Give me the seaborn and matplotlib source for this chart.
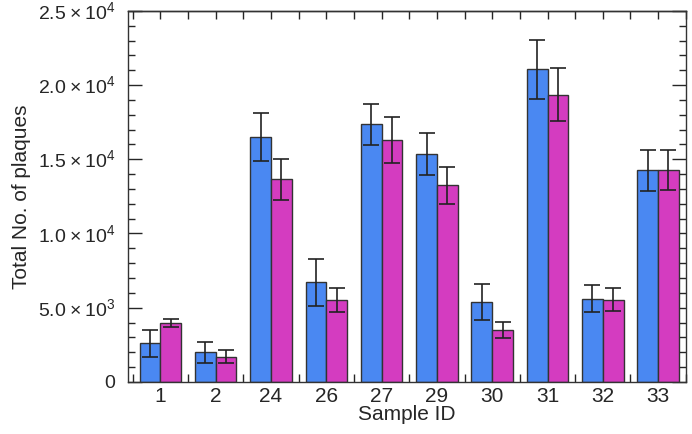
import numpy as np
import pandas as pd
import matplotlib
matplotlib.use("Agg")
import matplotlib.pyplot as plt
import seaborn as sns
from matplotlib.ticker import MultipleLocator, FixedLocator

# data
samples = ["1", "2", "24", "26", "27", "29", "30", "31", "32", "33"]
series_a = [2600, 2000, 16500, 6700, 17350, 15350, 5400, 21050, 5600, 14250]
series_b = [3950, 1700, 13650, 5500, 16300, 13250, 3500, 19350, 5550, 14300]
err_a = [900, 720, 1600, 1600, 1400, 1400, 1200, 2000, 900, 1400]
err_b = [270, 450, 1400, 800, 1550, 1250, 550, 1800, 750, 1350]
ytick_vals = [0, 5000, 10000, 15000, 20000, 25000]
ytick_text = ["0", "5.0\u2009×\u200910$^{3}$", "1.0\u2009×\u200910$^{4}$",
              "1.5\u2009×\u200910$^{4}$", "2.0\u2009×\u200910$^{4}$",
              "2.5\u2009×\u200910$^{4}$"]

blue = "#4a88f2"
magenta = "#d43cc0"

sns.set_theme(style="ticks")
plt.rcParams["font.family"] = ["Liberation Sans", "DejaVu Sans"]
plt.rcParams["mathtext.fontset"] = "custom"
plt.rcParams["mathtext.rm"] = "Liberation Sans"

df = pd.DataFrame({
    "Sample": samples * 2,
    "Plaques": series_a + series_b,
    "Series": ["A"] * len(samples) + ["B"] * len(samples),
})
errs = {"A": err_a, "B": err_b}

fig = plt.figure(figsize=(6.92, 4.34), dpi=100)
ax = fig.add_axes([0.185, 0.12, 0.806, 0.855])

sns.barplot(data=df, x="Sample", y="Plaques", hue="Series",
            palette=[blue, magenta], width=0.75, gap=0,
            edgecolor="#333333", linewidth=1.0, saturation=1,
            legend=False, ax=ax)

# error bars at the bar centres
for cont, key in zip(ax.containers, ["A", "B"]):
    xs = [p.get_x() + p.get_width() / 2 for p in cont.patches]
    hs = [p.get_height() for p in cont.patches]
    ax.errorbar(xs, hs, yerr=errs[key], fmt="none", ecolor="#222222",
                elinewidth=1.2, capsize=6, capthick=1.2, zorder=5)

ax.set_xlim(-0.585, 9.5)
ax.set_ylim(0, 25000)

ax.yaxis.set_minor_locator(MultipleLocator(1000))
ax.set_yticks(ytick_vals)
ax.set_yticklabels(ytick_text, fontsize=14)

ax.xaxis.set_minor_locator(FixedLocator(np.arange(-0.5, 9.6, 1.0)))
ax.tick_params(axis="x", which="major", length=0, labelsize=15, pad=4)
ax.tick_params(axis="x", which="minor", direction="in", length=6, width=1,
               bottom=True, top=False)
ax.tick_params(axis="y", which="major", direction="in", length=10, width=1,
               left=True, right=True, pad=9)
ax.tick_params(axis="y", which="minor", direction="in", length=5, width=1,
               left=True, right=True)

# top ticks at group centres and boundaries
top = ax.secondary_xaxis("top")
top.set_xticks(np.arange(-0.5, 9.6, 0.5))
top.tick_params(direction="in", length=6, width=1, labeltop=False)

for s in ax.spines.values():
    s.set_visible(True)
    s.set_linewidth(1.0)
    s.set_color("#333333")
top.spines["top"].set_linewidth(1.0)

ax.set_xlabel("Sample ID", fontsize=15, labelpad=-1)
ax.set_ylabel("Total No. of plaques", fontsize=15, labelpad=5)

plt.savefig("out.png", dpi=100)
